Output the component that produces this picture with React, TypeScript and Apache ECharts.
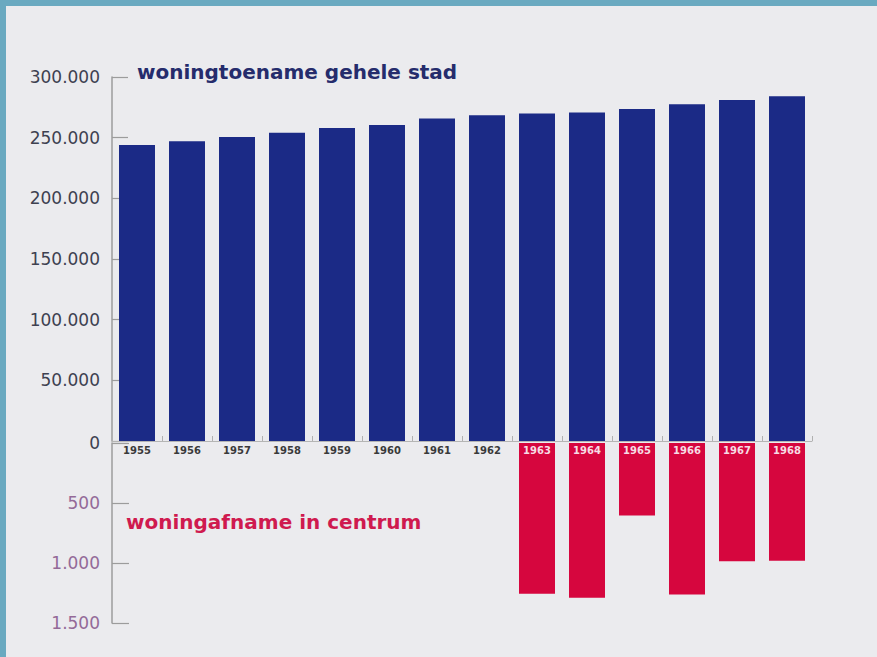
import React, { useEffect, useRef } from "react";
import * as echarts from "echarts";

const years = ["1955", "1956", "1957", "1958", "1959", "1960", "1961", "1962", "1963", "1964", "1965", "1966", "1967", "1968"];
const cityTotal = [244000, 247000, 250500, 254000, 258000, 260500, 265800, 268500, 270000, 270700, 273700, 277600, 281000, 284200];
const centreLoss = [null, null, null, null, null, null, null, null, 1256, 1290, 604, 1262, 986, 981];
const upperTicks = { min: 0, max: 300000, interval: 50000 };
const lowerTicks = { min: 0, max: 1500, interval: 500 };
const titleTop = "woningtoename gehele stad";
const titleBottom = "woningafname in centrum";

const fmt = (v: number) => {
  if (v === 0) return "0";
  const s = String(Math.round(v));
  return s.replace(/\B(?=(\d{3})+(?!\d))/g, ".");
};

export default function App() {
  const ref = useRef<HTMLDivElement>(null);
  useEffect(() => {
    if (!ref.current) return;
    const chart = echarts.init(ref.current, null, { renderer: "svg" });
    const axisGray = "#9c9c9c";
    const font = "DejaVu Sans";
    chart.setOption({
      animation: false,
      backgroundColor: "#ebebee",
      grid: [
        { left: 112, top: 77, width: 700, height: 364 },
        { left: 112, top: 443, width: 700, height: 180 },
      ],
      xAxis: [
        {
          type: "category",
          gridIndex: 0,
          data: years,
          z: 10,
          axisLine: { show: true, lineStyle: { color: "#b5b5b5", width: 1 } },
          axisTick: { show: true, inside: true, length: 5, lineStyle: { color: "#b0b0b0" } },
          axisLabel: {
            show: true,
            margin: 4,
            fontFamily: font,
            fontWeight: "bold",
            fontSize: 10,
            color: (_v: string, i: number) => (centreLoss[i] != null ? "#f6dde5" : "#3a3a3a"),
          },
        },
        {
          type: "category",
          gridIndex: 1,
          data: years,
          axisLine: { show: false },
          axisTick: { show: false },
          axisLabel: { show: false },
        },
      ],
      yAxis: [
        {
          type: "value",
          gridIndex: 0,
          ...upperTicks,
          axisLine: { show: true, lineStyle: { color: axisGray, width: 1.5 } },
          axisTick: { show: true, inside: true, length: 16, lineStyle: { color: axisGray, width: 1.2 } },
          splitLine: { show: false },
          axisLabel: {
            margin: 12,
            fontFamily: font,
            fontSize: 17,
            color: "#3e4150",
            formatter: (v: number) => (v === 0 ? "" : fmt(v)),
          },
        },
        {
          type: "value",
          gridIndex: 1,
          inverse: true,
          ...lowerTicks,
          axisLine: { show: true, lineStyle: { color: axisGray, width: 1.5 } },
          axisTick: { show: true, inside: true, length: 17, lineStyle: { color: axisGray, width: 1.2 } },
          splitLine: { show: false },
          axisLabel: {
            margin: 12,
            fontFamily: font,
            fontSize: 17,
            color: (v: any) => (Number(v) === 0 ? "#3e4150" : "#946a98"),
            formatter: (v: number) => fmt(v),
          },
        },
      ],
      series: [
        {
          type: "bar",
          xAxisIndex: 0,
          yAxisIndex: 0,
          data: cityTotal,
          barWidth: 36,
          itemStyle: { color: "#1b2a86" },
        },
        {
          type: "bar",
          xAxisIndex: 1,
          yAxisIndex: 1,
          data: centreLoss,
          barWidth: 36,
          itemStyle: { color: "#d6063e" },
        },
      ],
      graphic: [
        { type: "rect", left: 0, top: 0, shape: { width: 877, height: 6 }, style: { fill: "#6aa9c0" } },
        { type: "rect", left: 0, top: 0, shape: { width: 6, height: 657 }, style: { fill: "#6aa9c0" } },
        {
          type: "text",
          left: 137,
          top: 62,
          style: { text: titleTop, fill: "#252c6c", font: `bold 20px "${font}"` },
        },
        {
          type: "text",
          left: 126,
          top: 512,
          style: { text: titleBottom, fill: "#cf1a4f", font: `bold 20px "${font}"` },
        },
      ],
    });
    return () => chart.dispose();
  }, []);
  return <div ref={ref} style={{ position: "fixed", left: 0, top: 0, width: 877, height: 657 }} />;
}
